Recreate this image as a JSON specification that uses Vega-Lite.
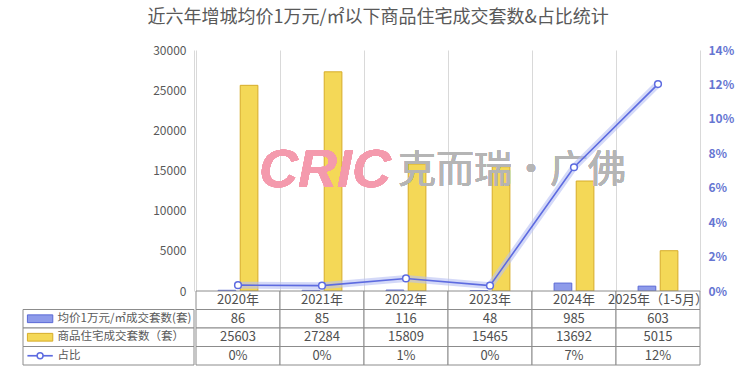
{
  "$schema": "https://vega.github.io/schema/vega-lite/v6.json",
  "background": "white",
  "padding": {"left": 22, "top": 9, "right": 8, "bottom": 5},
  "title": {
    "text": "近六年增城均价1万元/㎡以下商品住宅成交套数&占比统计",
    "fontSize": 18,
    "fontWeight": "normal",
    "color": "#595959",
    "anchor": "middle",
    "offset": 17
  },
  "config": {
    "font": "Noto Sans CJK SC",
    "view": {"stroke": null}
  },
  "datasets": {
    "bars": [
      {"year": "2020年", "series": "均价1万元/㎡成交套数(套)", "value": 86},
      {"year": "2020年", "series": "商品住宅成交套数（套）", "value": 25603},
      {"year": "2021年", "series": "均价1万元/㎡成交套数(套)", "value": 85},
      {"year": "2021年", "series": "商品住宅成交套数（套）", "value": 27284},
      {"year": "2022年", "series": "均价1万元/㎡成交套数(套)", "value": 116},
      {"year": "2022年", "series": "商品住宅成交套数（套）", "value": 15809},
      {"year": "2023年", "series": "均价1万元/㎡成交套数(套)", "value": 48},
      {"year": "2023年", "series": "商品住宅成交套数（套）", "value": 15465},
      {"year": "2024年", "series": "均价1万元/㎡成交套数(套)", "value": 985},
      {"year": "2024年", "series": "商品住宅成交套数（套）", "value": 13692},
      {"year": "2025年（1-5月）", "series": "均价1万元/㎡成交套数(套)", "value": 603},
      {"year": "2025年（1-5月）", "series": "商品住宅成交套数（套）", "value": 5015}
    ],
    "ratio": [
      {"year": "2020年", "pct": 0.0034},
      {"year": "2021年", "pct": 0.0031},
      {"year": "2022年", "pct": 0.0073},
      {"year": "2023年", "pct": 0.0031},
      {"year": "2024年", "pct": 0.0719},
      {"year": "2025年（1-5月）", "pct": 0.1202}
    ],
    "table": [
      {"year": "2020年", "row": "hdr", "label": "2020年"},
      {"year": "2021年", "row": "hdr", "label": "2021年"},
      {"year": "2022年", "row": "hdr", "label": "2022年"},
      {"year": "2023年", "row": "hdr", "label": "2023年"},
      {"year": "2024年", "row": "hdr", "label": "2024年"},
      {"year": "2025年（1-5月）", "row": "hdr", "label": "2025年（1-5月）"},
      {"year": "2020年", "row": "r1", "label": "86"},
      {"year": "2021年", "row": "r1", "label": "85"},
      {"year": "2022年", "row": "r1", "label": "116"},
      {"year": "2023年", "row": "r1", "label": "48"},
      {"year": "2024年", "row": "r1", "label": "985"},
      {"year": "2025年（1-5月）", "row": "r1", "label": "603"},
      {"year": "2020年", "row": "r2", "label": "25603"},
      {"year": "2021年", "row": "r2", "label": "27284"},
      {"year": "2022年", "row": "r2", "label": "15809"},
      {"year": "2023年", "row": "r2", "label": "15465"},
      {"year": "2024年", "row": "r2", "label": "13692"},
      {"year": "2025年（1-5月）", "row": "r2", "label": "5015"},
      {"year": "2020年", "row": "r3", "label": "0%"},
      {"year": "2021年", "row": "r3", "label": "0%"},
      {"year": "2022年", "row": "r3", "label": "1%"},
      {"year": "2023年", "row": "r3", "label": "0%"},
      {"year": "2024年", "row": "r3", "label": "7%"},
      {"year": "2025年（1-5月）", "row": "r3", "label": "12%"}
    ],
    "legend": [
      {"row": "r1", "name": "均价1万元/㎡成交套数(套)"},
      {"row": "r2", "name": "商品住宅成交套数（套）"},
      {"row": "r3", "name": "占比"}
    ]
  },
  "spacing": 0,
  "resolve": {"scale": {"x": "independent", "y": "independent", "color": "independent"}},
  "hconcat": [
    {
      "spacing": 0,
      "bounds": "flush",
      "resolve": {"scale": {"x": "independent", "y": "independent", "color": "independent"}},
      "vconcat": [
        {
          "width": 171,
          "height": 241,
          "data": {"values": [{"v": 0}, {"v": 30000}]},
          "mark": {"type": "text", "text": ""},
          "encoding": {
            "y": {
              "field": "v", "type": "quantitative",
              "scale": {"domain": [0, 30000], "nice": false},
              "axis": {"title": null, "orient": "left", "offset": -171, "format": "d", "values": [0, 5000, 10000, 15000, 20000, 25000, 30000], "grid": false, "ticks": false, "domain": true, "domainColor": "#d9d9d9", "labelColor": "#595959", "labelFontSize": 12, "labelPadding": 8}
            }
          }
        },
        {
          "width": 171,
          "height": 74,
          "data": {"name": "legend"},
          "encoding": {
            "y": {"field": "row", "type": "nominal", "scale": {"domain": ["hdr", "r1", "r2", "r3"], "paddingInner": 0, "paddingOuter": 0}, "axis": null}
          },
          "layer": [
            {"mark": {"type": "rect", "fill": "white", "stroke": "#8c8c8c", "strokeWidth": 1}},
            {
              "transform": [{"filter": "datum.row === 'r1'"}],
              "mark": {"type": "bar", "fill": "#8E9BEA", "stroke": "#5A69D6", "strokeWidth": 1, "height": {"band": 0.42}},
              "encoding": {"x": {"datum": "sw", "type": "nominal", "scale": {"domain": ["sw", "lb", "c3", "c4", "c5"], "paddingInner": 0.258, "paddingOuter": 0.129}, "axis": null}}
            },
            {
              "transform": [{"filter": "datum.row === 'r2'"}],
              "mark": {"type": "bar", "fill": "#F4D857", "stroke": "#D6AC2A", "strokeWidth": 1, "height": {"band": 0.42}},
              "encoding": {"x": {"datum": "sw", "type": "nominal"}}
            },
            {
              "transform": [{"filter": "datum.row === 'r3'"}],
              "mark": {"type": "bar", "fill": "#5D6BE0", "height": {"band": 0.09}},
              "encoding": {"x": {"datum": "sw", "type": "nominal"}}
            },
            {
              "transform": [{"filter": "datum.row === 'r3'"}],
              "mark": {"type": "point", "shape": "circle", "filled": true, "fill": "white", "stroke": "#5D6BE0", "strokeWidth": 1.5, "size": 35, "opacity": 1},
              "encoding": {"x": {"datum": "sw", "type": "nominal"}}
            },
            {
              "mark": {"type": "text", "align": "left", "baseline": "middle", "fontSize": 11.5, "color": "#595959", "dx": -4},
              "encoding": {
                "x": {"datum": "lb", "type": "nominal", "bandPosition": 0},
                "text": {"field": "name"}
              }
            }
          ]
        }
      ]
    },
    {
      "spacing": 0,
      "bounds": "flush",
      "resolve": {"scale": {"x": "independent", "y": "independent", "color": "independent"}},
      "vconcat": [
        {
          "width": 504,
          "height": 241,
          "resolve": {"scale": {"y": "independent"}},
          "layer": [
            {
              "data": {"name": "bars"},
              "layer": [
                {
                  "mark": {"type": "bar", "strokeWidth": 1},
                  "encoding": {
                    "x": {
                      "field": "year", "type": "nominal", "sort": null,
                      "scale": {"domain": ["2020年", "2021年", "2022年", "2023年", "2024年", "2025年（1-5月）"], "paddingInner": 0, "paddingOuter": 0},
                      "axis": {"title": null, "labels": false, "ticks": false, "domain": false, "grid": true, "tickBand": "extent", "gridColor": "#d9d9d9", "gridWidth": 1}
                    },
                    "xOffset": {
                      "field": "series", "type": "nominal",
                      "scale": {"domain": ["均价1万元/㎡成交套数(套)", "商品住宅成交套数（套）"], "paddingInner": 0.2, "paddingOuter": 1.2}
                    },
                    "y": {
                      "field": "value", "type": "quantitative", "stack": null,
                      "scale": {"domain": [0, 30000], "nice": false},
                      "axis": null
                    },
                    "color": {
                      "field": "series", "type": "nominal", "legend": null,
                      "scale": {"domain": ["均价1万元/㎡成交套数(套)", "商品住宅成交套数（套）"], "range": ["#8E9BEA", "#F4D857"]}
                    },
                    "stroke": {
                      "field": "series", "type": "nominal", "legend": null,
                      "scale": {"domain": ["均价1万元/㎡成交套数(套)", "商品住宅成交套数（套）"], "range": ["#5A69D6", "#D6AC2A"]}
                    }
                  }
                },
                {
                  "mark": {"type": "text", "text": "CRIC", "font": "Liberation Sans", "fontStyle": "italic", "fontWeight": "bold", "fontSize": 54, "color": "#F49AAD", "opacity": 0.7, "align": "right", "baseline": "middle", "dx": -4},
                  "encoding": {
                    "x": {"datum": "2022年", "type": "nominal", "bandPosition": 0.37},
                    "y": {"datum": 15000, "type": "quantitative"}
                  }
                },
                {
                  "mark": {"type": "text", "text": "克而瑞·广佛", "fontSize": 38, "color": "#B5B5B5", "opacity": 0.75, "align": "left", "baseline": "middle", "dx": 3},
                  "encoding": {
                    "x": {"datum": "2022年", "type": "nominal", "bandPosition": 0.37},
                    "y": {"datum": 15000, "type": "quantitative"}
                  }
                }
              ]
            },
            {
              "data": {"name": "ratio"},
              "encoding": {
                "x": {"field": "year", "type": "nominal", "sort": null},
                "y": {
                  "field": "pct", "type": "quantitative",
                  "scale": {"domain": [0, 0.14], "nice": false},
                  "axis": {"title": null, "orient": "right", "format": ".0%", "values": [0, 0.02, 0.04, 0.06, 0.08, 0.1, 0.12, 0.14], "grid": false, "ticks": false, "domain": false, "labelColor": "#6676D2", "labelFontWeight": "bold", "labelFontSize": 12, "labelPadding": 8}
                }
              },
              "layer": [
                {"mark": {"type": "line", "color": "#B7BFF4", "strokeWidth": 7, "opacity": 0.6, "strokeCap": "round"}},
                {"mark": {"type": "line", "color": "#5D6BE0", "strokeWidth": 1.6}},
                {"mark": {"type": "point", "shape": "circle", "filled": true, "fill": "white", "stroke": "#5D6BE0", "strokeWidth": 1.5, "size": 45, "opacity": 1}}
              ]
            }
          ]
        },
        {
          "width": 504,
          "height": 74,
          "data": {"name": "table"},
          "encoding": {
            "x": {"field": "year", "type": "nominal", "sort": null, "scale": {"domain": ["2020年", "2021年", "2022年", "2023年", "2024年", "2025年（1-5月）"], "paddingInner": 0, "paddingOuter": 0}, "axis": null},
            "y": {"field": "row", "type": "nominal", "scale": {"domain": ["hdr", "r1", "r2", "r3"], "paddingInner": 0, "paddingOuter": 0}, "axis": null}
          },
          "layer": [
            {"mark": {"type": "rect", "fill": "white", "stroke": "#8c8c8c", "strokeWidth": 1}},
            {
              "mark": {"type": "text", "align": "center", "baseline": "middle", "fontSize": 13, "color": "#505050"},
              "encoding": {"text": {"field": "label"}}
            }
          ]
        }
      ]
    }
  ]
}
